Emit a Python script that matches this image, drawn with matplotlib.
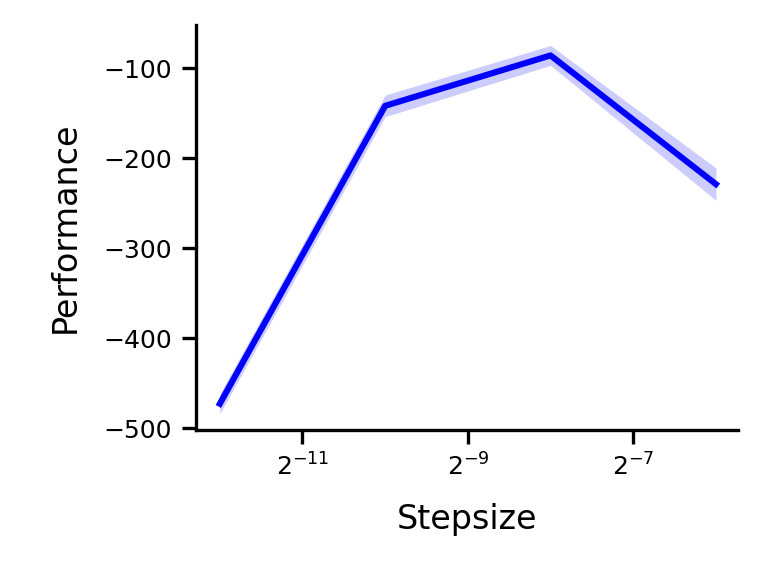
import matplotlib
matplotlib.use("Agg")
import matplotlib.pyplot as plt
import numpy as np

exponents = [-12, -10, -8, -6]
mean = [-473, -142, -86, -229]
err = [11, 12, 11, 18]
xticks = [-11, -9, -7]

x = 2.0 ** np.array(exponents)
m = np.array(mean); e = np.array(err)
fig = plt.figure(figsize=(3.825, 2.885), dpi=200)
ax = fig.add_axes([0.256, 0.255, 0.709, 0.702])
ax.fill_between(x, m - e, m + e, color=(0.8, 0.8, 1.0), linewidth=0)
ax.plot(x, m, color='blue', linewidth=2.2)
ax.set_xscale('log', base=2)
ax.set_xticks(2.0 ** np.array(xticks))
ax.set_xticklabels([f"$2^{{{t}}}$" for t in xticks])
ax.minorticks_off()
ax.set_xlim(2.0 ** -12.29, 2.0 ** -5.73)
ax.set_ylim(-502, -52)
ax.set_yticks([-500, -400, -300, -200, -100])
ax.tick_params(labelsize=9, width=1.2, length=5)
ax.set_xlabel('Stepsize', fontsize=12, labelpad=8)
ax.set_ylabel('Performance', fontsize=12, labelpad=8)
for s in ['left', 'bottom']:
    ax.spines[s].set_linewidth(1.2)
for s in ['top', 'right']:
    ax.spines[s].set_visible(False)
fig.savefig('out.png', dpi=200)
